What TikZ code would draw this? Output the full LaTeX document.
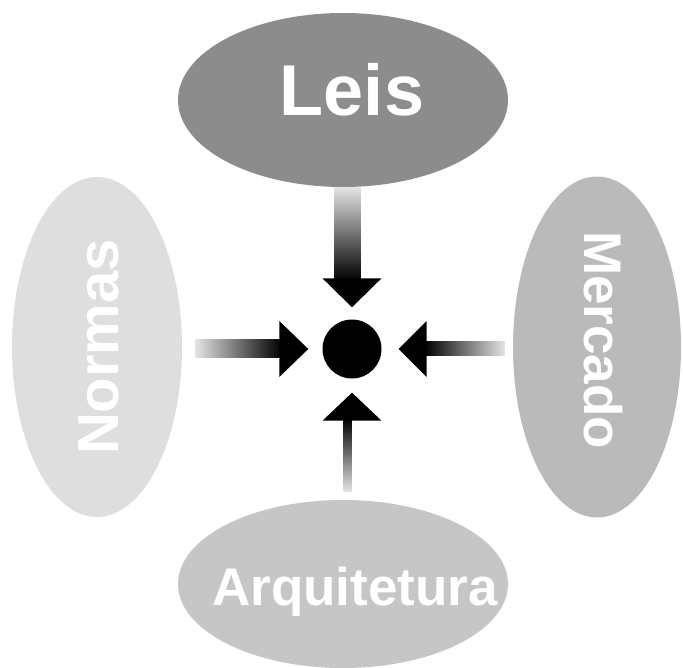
\documentclass[tikz,border=0pt]{standalone}
\usepackage{fontspec}
\setmainfont{Liberation Sans}
\usetikzlibrary{shapes.geometric,calc}
\definecolor{cLeis}{HTML}{8C8C8C}
\definecolor{cMerc}{HTML}{BABABA}
\definecolor{cArq}{HTML}{C6C6C6}
\definecolor{cNorm}{HTML}{DEDEDE}
\definecolor{cShaft}{HTML}{E4E4E4}
\tikzset{
  oval/.style={ellipse, inner sep=0pt, draw=none},
  lbl/.style={text=white, font=\bfseries, inner sep=0pt, anchor=center},
  head/.style={fill=black, draw=none},
}
\begin{document}
\begin{tikzpicture}[x=1pt,y=-1pt]
\useasboundingbox[fill=white] (0,0) rectangle (683,667);
% ellipses
\node[oval, fill=cLeis, minimum width=330, minimum height=174] (leis) at (343,100) {};
\node[oval, fill=cNorm, minimum width=170, minimum height=340] (normas) at (97,347) {};
\node[oval, fill=cMerc, minimum width=168, minimum height=341] (mercado) at (597,347) {};
\node[oval, fill=cArq, minimum width=330, minimum height=168] (arq) at (343,584) {};
% labels
\node[lbl, font=\bfseries\fontsize{72}{72}\selectfont] (tleis) at (352,90) {Leis};
\node[lbl, font=\bfseries\fontsize{58}{58}\selectfont, rotate=90] (tnorm) at (99,347) {Normas};
\node[lbl, font=\bfseries\fontsize{53}{53}\selectfont, rotate=-90] (tmerc) at (603,340) {Mercado};
\node[lbl, font=\bfseries\fontsize{53}{53}\selectfont] (tarq) at (355,592) {Arquitetura};
% center dot
\node[circle, fill=black, minimum size=59, inner sep=0pt] (dot) at (352,349) {};
% arrow tips
\coordinate (tipT) at ($(dot.north)+(0,-12)$);
\coordinate (tipB) at ($(dot.south)+(0,14)$);
\coordinate (tipL) at ($(dot.west)+(-14,0)$);
\coordinate (tipR) at ($(dot.east)+(17,0)$);
% top arrow
\shade[top color=cShaft, bottom color=black] ($(leis.south)+(-8.5,0)$) rectangle ($(tipT)+(8.5,-27)$);
\fill[head] (tipT) -- ++(-29.5,-29) -- ++(59,0) -- cycle;
% bottom arrow
\shade[top color=black, bottom color=cShaft] ($(tipB)+(-8.5,26)$) rectangle ($(arq.north)+(8.5,-8)$);
\fill[head] (tipB) -- ++(-29.5,28) -- ++(59,0) -- cycle;
% left arrow
\shade[left color=cShaft, right color=black] ($(normas.east)+(13,-8)$) rectangle ($(tipL)+(-27,8)$);
\fill[head] (tipL) -- ++(-29,-28) -- ++(0,56) -- cycle;
% right arrow
\shade[left color=black, right color=cShaft] ($(tipR)+(26,-8)$) rectangle ($(mercado.west)+(-8,8)$);
\fill[head] (tipR) -- ++(28,-28) -- ++(0,56) -- cycle;
\end{tikzpicture}
\end{document}
